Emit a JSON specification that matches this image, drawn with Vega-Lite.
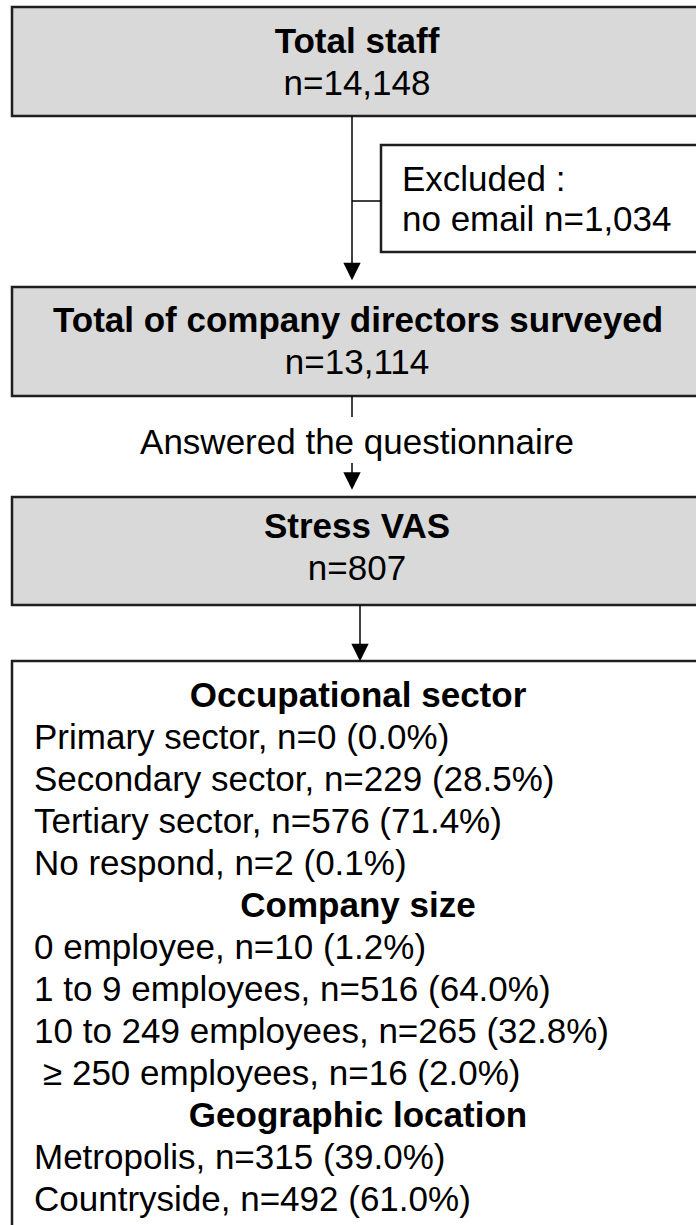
{
  "$schema": "https://vega.github.io/schema/vega-lite/v6.json",
  "width": 696,
  "height": 1225,
  "padding": 0,
  "autosize": {"type": "none"},
  "background": "#ffffff",
  "config": {"view": {"stroke": null}},
  "datasets": {
    "boxes": [
      {"box": "Total staff", "kind": "main", "x1": 12, "x2": 720, "y1": 7, "y2": 116},
      {"box": "Excluded", "kind": "note", "x1": 381, "x2": 720, "y1": 145, "y2": 252},
      {"box": "Surveyed", "kind": "main", "x1": 12, "x2": 720, "y1": 287, "y2": 396},
      {"box": "Stress VAS", "kind": "main", "x1": 12, "x2": 720, "y1": 497, "y2": 605},
      {"box": "Characteristics", "kind": "detail", "x1": 12, "x2": 720, "y1": 661, "y2": 1260}
    ],
    "links": [
      {"x1": 352, "x2": 352, "y1": 116, "y2": 266},
      {"x1": 352, "x2": 381, "y1": 201, "y2": 201},
      {"x1": 352, "x2": 352, "y1": 396, "y2": 417},
      {"x1": 352, "x2": 352, "y1": 463, "y2": 475},
      {"x1": 360, "x2": 360, "y1": 605, "y2": 647}
    ],
    "arrows": [
      {"x": 352, "y": 271.5},
      {"x": 352, "y": 481},
      {"x": 360, "y": 652.5}
    ],
    "labels": [
      {"text": "Total staff", "role": "title", "x": 357, "y": 53},
      {"text": "n=14,148", "role": "count", "x": 357, "y": 95},
      {"text": "Excluded :", "role": "item", "x": 402, "y": 190.5},
      {"text": "no email n=1,034", "role": "item", "x": 402, "y": 230.5},
      {"text": "Total of company directors surveyed", "role": "title", "x": 358, "y": 332},
      {"text": "n=13,114", "role": "count", "x": 357, "y": 374},
      {"text": "Answered the questionnaire", "role": "count", "x": 357, "y": 454},
      {"text": "Stress VAS", "role": "title", "x": 357, "y": 538},
      {"text": "n=807", "role": "count", "x": 357, "y": 580},
      {"text": "Occupational sector", "role": "title", "x": 358, "y": 707},
      {"text": "Primary sector, n=0 (0.0%)", "role": "item", "x": 34, "y": 749},
      {"text": "Secondary sector, n=229 (28.5%)", "role": "item", "x": 34, "y": 791},
      {"text": "Tertiary sector, n=576 (71.4%)", "role": "item", "x": 34, "y": 833},
      {"text": "No respond, n=2 (0.1%)", "role": "item", "x": 34, "y": 875},
      {"text": "Company size", "role": "title", "x": 358, "y": 917},
      {"text": "0 employee, n=10 (1.2%)", "role": "item", "x": 34, "y": 959},
      {"text": "1 to 9 employees, n=516 (64.0%)", "role": "item", "x": 34, "y": 1001},
      {"text": "10 to 249 employees, n=265 (32.8%)", "role": "item", "x": 34, "y": 1043},
      {"text": "≥ 250 employees, n=16 (2.0%)", "role": "item", "x": 43, "y": 1085},
      {"text": "Geographic location", "role": "title", "x": 358, "y": 1127},
      {"text": "Metropolis, n=315 (39.0%)", "role": "item", "x": 34, "y": 1169},
      {"text": "Countryside, n=492 (61.0%)", "role": "item", "x": 34, "y": 1211}
    ]
  },
  "layer": [
    {
      "data": {"name": "boxes"},
      "mark": {"type": "rect", "stroke": "#1f1f1f", "strokeWidth": 2.5, "clip": true},
      "encoding": {
        "x": {"field": "x1", "type": "quantitative", "scale": {"domain": [0, 696], "nice": false, "zero": false}, "axis": null},
        "x2": {"field": "x2"},
        "y": {"field": "y1", "type": "quantitative", "scale": {"domain": [0, 1225], "nice": false, "zero": false, "reverse": true}, "axis": null},
        "y2": {"field": "y2"},
        "fill": {"field": "kind", "type": "nominal", "scale": {"domain": ["main", "note", "detail"], "range": ["#d9d9d9", "#ffffff", "#ffffff"]}, "legend": null}
      }
    },
    {
      "data": {"name": "links"},
      "mark": {"type": "rule", "color": "#000000", "strokeWidth": 1.5},
      "encoding": {
        "x": {"field": "x1", "type": "quantitative", "scale": {"domain": [0, 696], "nice": false, "zero": false}, "axis": null},
        "x2": {"field": "x2"},
        "y": {"field": "y1", "type": "quantitative", "scale": {"domain": [0, 1225], "nice": false, "zero": false, "reverse": true}, "axis": null},
        "y2": {"field": "y2"}
      }
    },
    {
      "data": {"name": "arrows"},
      "mark": {"type": "point", "shape": "M-1,-1L1,-1L0,1Z", "filled": true, "color": "#000000", "size": 300, "opacity": 1, "strokeWidth": 0},
      "encoding": {
        "x": {"field": "x", "type": "quantitative", "scale": {"domain": [0, 696], "nice": false, "zero": false}, "axis": null},
        "y": {"field": "y", "type": "quantitative", "scale": {"domain": [0, 1225], "nice": false, "zero": false, "reverse": true}, "axis": null}
      }
    },
    {
      "data": {"name": "labels"},
      "transform": [{"filter": "datum.role === 'title'"}],
      "mark": {"type": "text", "font": "Liberation Sans", "fontSize": 35, "fontWeight": "bold", "align": "center", "baseline": "alphabetic", "color": "#000000"},
      "encoding": {
        "x": {"field": "x", "type": "quantitative", "scale": {"domain": [0, 696], "nice": false, "zero": false}, "axis": null},
        "y": {"field": "y", "type": "quantitative", "scale": {"domain": [0, 1225], "nice": false, "zero": false, "reverse": true}, "axis": null},
        "text": {"field": "text", "type": "nominal"}
      }
    },
    {
      "data": {"name": "labels"},
      "transform": [{"filter": "datum.role === 'count'"}],
      "mark": {"type": "text", "font": "Liberation Sans", "fontSize": 35, "align": "center", "baseline": "alphabetic", "color": "#000000"},
      "encoding": {
        "x": {"field": "x", "type": "quantitative", "scale": {"domain": [0, 696], "nice": false, "zero": false}, "axis": null},
        "y": {"field": "y", "type": "quantitative", "scale": {"domain": [0, 1225], "nice": false, "zero": false, "reverse": true}, "axis": null},
        "text": {"field": "text", "type": "nominal"}
      }
    },
    {
      "data": {"name": "labels"},
      "transform": [{"filter": "datum.role === 'item'"}],
      "mark": {"type": "text", "font": "Liberation Sans", "fontSize": 35, "align": "left", "baseline": "alphabetic", "color": "#000000"},
      "encoding": {
        "x": {"field": "x", "type": "quantitative", "scale": {"domain": [0, 696], "nice": false, "zero": false}, "axis": null},
        "y": {"field": "y", "type": "quantitative", "scale": {"domain": [0, 1225], "nice": false, "zero": false, "reverse": true}, "axis": null},
        "text": {"field": "text", "type": "nominal"}
      }
    }
  ]
}
